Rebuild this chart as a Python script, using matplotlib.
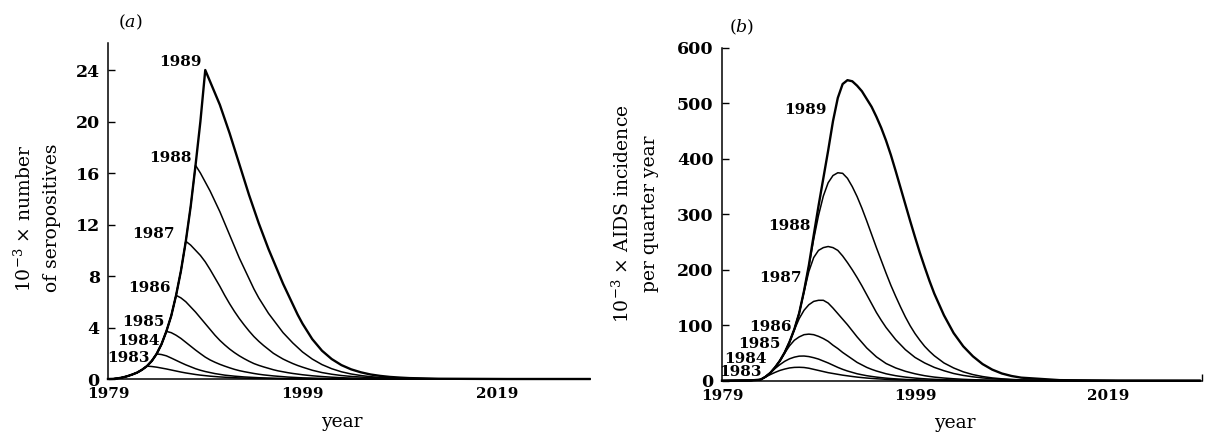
import matplotlib
matplotlib.use("Agg")
import matplotlib.pyplot as plt

plt.rcParams["font.family"] = "DejaVu Serif"
plt.rcParams["mathtext.fontset"] = "dejavuserif"

cohorts = [1983, 1984, 1985, 1986, 1987, 1988, 1989]

# ---------------- (a) seropositives, by last year of infection ----------------
years_a = [1979, 1979.5, 1980, 1980.5, 1981, 1981.5, 1982, 1982.5, 1983, 1983.5,
           1984, 1984.5, 1985, 1985.5, 1986, 1986.5, 1987, 1987.5, 1988, 1988.5,
           1989, 1989.5, 1990, 1990.5, 1991, 1991.5, 1992, 1992.5, 1993, 1993.5,
           1994, 1994.5, 1995, 1995.5, 1996, 1996.5, 1997, 1997.5, 1998, 1998.5,
           1999,
           2000, 2001, 2002, 2003, 2004, 2005, 2006, 2007, 2008, 2009, 2010,
           2013, 2020, 2028.5]

# common rising branch 1979-1989 (half-year steps)
sero_rise = [0, 0.01, 0.05, 0.12, 0.22, 0.35, 0.5, 0.72, 1.0, 1.4, 1.95, 2.7, 3.7,
             4.9, 6.5, 8.4, 10.7, 13.4, 16.6, 20.0, 24.0]

# decline of each cohort, from half a year after its peak onwards
sero_fall_1983 = [0.97, 0.92, 0.85, 0.78, 0.70, 0.62, 0.54, 0.47, 0.41, 0.35, 0.30,
                  0.26, 0.22, 0.19, 0.16, 0.14, 0.12, 0.10, 0.085, 0.07, 0.06, 0.05,
                  0.045, 0.04, 0.035, 0.03, 0.025, 0.02, 0.018, 0.015, 0.012, 0.01,
                  0.01, 0, 0, 0, 0, 0, 0, 0, 0, 0, 0,
                  0, 0, 0]
sero_fall_1984 = [1.9, 1.8, 1.63, 1.45, 1.27, 1.1, 0.95, 0.8, 0.68, 0.58, 0.5, 0.42,
                  0.36, 0.3, 0.26, 0.22, 0.19, 0.16, 0.14, 0.12, 0.1, 0.085, 0.07,
                  0.06, 0.05, 0.04, 0.035, 0.03, 0.025, 0.02,
                  0.015, 0.01, 0, 0, 0, 0, 0, 0, 0, 0, 0,
                  0, 0, 0]
sero_fall_1985 = [3.6, 3.4, 3.15, 2.85, 2.55, 2.25, 1.97, 1.7, 1.48, 1.3, 1.14, 1.0,
                  0.87, 0.75, 0.65, 0.57, 0.5, 0.43, 0.37, 0.32, 0.28, 0.24, 0.21,
                  0.18, 0.15, 0.13, 0.11, 0.09,
                  0.07, 0.05, 0.035, 0.025, 0.015, 0.01, 0, 0, 0, 0, 0,
                  0, 0, 0]
sero_fall_1986 = [6.3, 6.0, 5.6, 5.2, 4.75, 4.3, 3.85, 3.4, 3.0, 2.65, 2.33, 2.05,
                  1.8, 1.58, 1.38, 1.2, 1.06, 0.94, 0.83, 0.72, 0.63, 0.56, 0.49,
                  0.43, 0.38, 0.33,
                  0.25, 0.19, 0.14, 0.1, 0.075, 0.055, 0.04, 0.03, 0.02, 0.015, 0.01,
                  0, 0, 0]
sero_fall_1987 = [10.4, 10.0, 9.6, 9.1, 8.5, 7.85, 7.2, 6.5, 5.85, 5.25, 4.7, 4.2,
                  3.73, 3.3, 2.93, 2.6, 2.3, 2.0, 1.77, 1.55, 1.37, 1.2, 1.05, 0.92,
                  0.68, 0.5, 0.37, 0.27, 0.2, 0.15, 0.11, 0.08, 0.06, 0.045, 0.03,
                  0.01, 0, 0]
sero_fall_1988 = [16.0, 15.3, 14.6, 13.8, 13.0, 12.1, 11.2, 10.3, 9.4, 8.6, 7.8, 7.0,
                  6.3, 5.7, 5.1, 4.6, 4.1, 3.6, 3.2, 2.8, 2.45, 2.1,
                  1.55, 1.12, 0.8, 0.56, 0.39, 0.27, 0.18, 0.12, 0.08, 0.055, 0.04,
                  0.015, 0, 0]
sero_fall_1989 = [23.1, 22.2, 21.3, 20.2, 19.1, 17.9, 16.7, 15.5, 14.3, 13.2, 12.1,
                  11.1, 10.1, 9.2, 8.3, 7.4, 6.6, 5.8, 5.0, 4.3,
                  3.1, 2.2, 1.55, 1.08, 0.75, 0.52, 0.35, 0.24, 0.16, 0.11, 0.07,
                  0.02, 0, 0]

sero_falls = [sero_fall_1983, sero_fall_1984, sero_fall_1985, sero_fall_1986,
              sero_fall_1987, sero_fall_1988, sero_fall_1989]

# ---------------- (b) AIDS incidence per quarter year ----------------
years_b = [1979, 1982,
           1983, 1983.5, 1984, 1984.5, 1985, 1985.5, 1986, 1986.5, 1987, 1987.5,
           1988, 1988.5, 1989, 1989.5, 1990, 1990.5, 1991, 1991.5, 1992, 1992.5,
           1993, 1993.5, 1994, 1994.5, 1995, 1995.5, 1996, 1996.5, 1997, 1997.5,
           1998, 1998.5, 1999, 1999.5, 2000, 2000.5, 2001,
           2002, 2003, 2004, 2005, 2006, 2007, 2008, 2009, 2010,
           2014, 2020, 2028.5]

aids_1983 = [0, 0.5,
             2, 6.5, 11, 15, 18.5, 21, 23, 24, 24.2, 23.8,
             22.5, 20.5, 18.5, 16.5, 14.5, 13, 11.5, 10, 8.8, 7.6,
             6.5, 5.6, 4.8, 4.1, 3.5, 3.0, 2.5, 2.1, 1.8, 1.55,
             1.3, 1.1, 0.9, 0.75, 0.6, 0.5, 0.42,
             0.3, 0.2, 0.14, 0.1, 0.07, 0.05, 0.03, 0.02, 0.01,
             0, 0, 0]
aids_1984 = [0, 0.5,
             2, 7, 14, 22, 29, 35, 39.5, 42.5, 44.3, 44.5,
             43.5, 41.5, 39, 35.5, 32, 28, 24, 20.5, 17.5, 15,
             12.5, 10.7, 9, 7.7, 6.5, 5.5, 4.6, 3.9, 3.3, 2.8,
             2.3, 1.9, 1.6, 1.35, 1.1, 0.95, 0.8,
             0.55, 0.4, 0.28, 0.2, 0.14, 0.1, 0.07, 0.05, 0.03,
             0, 0, 0]
aids_1985 = [0, 0.5,
             2, 7, 14, 24, 36, 50, 63, 73, 79, 83,
             84, 83, 80, 76, 71, 64, 58, 51, 45, 39,
             33, 28.5, 24, 20.5, 17.5, 15, 12.5, 10.7, 9, 7.7,
             6.5, 5.6, 4.7, 4.0, 3.4, 2.9, 2.5,
             1.8, 1.3, 0.9, 0.6, 0.45, 0.3, 0.2, 0.15, 0.1,
             0, 0, 0]
aids_1986 = [0, 0.5,
             2, 7, 14, 24, 36, 51, 70, 92, 112, 127,
             137, 143, 145, 145, 140, 131, 121, 111, 101, 90,
             79, 69, 59, 51, 43, 37, 31, 27, 23, 20,
             17, 14.7, 12.5, 10.7, 9, 7.7, 6.5,
             4.8, 3.5, 2.5, 1.8, 1.3, 0.9, 0.6, 0.4, 0.3,
             0.1, 0, 0]
aids_1987 = [0, 0.5,
             2, 7, 14, 24, 36, 51, 70, 93, 122, 160,
             197, 222, 235, 240, 242, 240, 235, 225, 213, 200,
             186, 171, 155, 139, 123, 109, 96, 85, 74, 65,
             56, 49, 42, 37, 32, 28, 24,
             18, 13, 9.5, 7, 5, 3.5, 2.5, 1.8, 1.2,
             0.3, 0, 0]
aids_1988 = [0, 0.5,
             2, 7, 14, 24, 36, 51, 70, 93, 122, 162,
             206, 255, 298, 333, 357, 370, 375, 374, 365, 350,
             332, 311, 288, 264, 240, 217, 194, 172, 152, 133,
             115, 99, 85, 73, 62, 53, 45,
             32, 23, 16, 11, 7.5, 5, 3.4, 2.3, 1.5,
             0.3, 0, 0]
aids_1989 = [0, 0.5,
             2, 7, 14, 24, 36, 51, 70, 93, 122, 162,
             208, 262, 315, 365, 415, 468, 510, 535, 542, 540,
             532, 522, 508, 494, 476, 456, 433, 407, 378, 348,
             318, 288, 259, 231, 205, 180, 157,
             118, 86, 62, 44, 30, 20, 13, 8.5, 5.5,
             1, 0.1, 0]

aids_curves = [aids_1983, aids_1984, aids_1985, aids_1986, aids_1987, aids_1988,
               aids_1989]

# label anchors (right edge, vertical centre) in data coordinates
sero_label_x = [1983.3, 1984.35, 1984.86, 1985.4, 1985.9, 1987.64, 1988.67]
sero_label_y = [1.63, 2.95, 4.43, 7.07, 11.3, 17.2, 24.6]
aids_label_x = [1983.15, 1983.66, 1985.04, 1986.25, 1987.29, 1988.15, 1989.88]
aids_label_y = [15, 39, 66, 96, 186, 279, 489]

W, H = 1206, 438
fig = plt.figure(figsize=(W / 100, H / 100), dpi=100)
ax_a = fig.add_axes([108 / W, (H - 379) / H, 482 / W, 336 / H])
ax_b = fig.add_axes([722 / W, (H - 380.7) / H, 480 / W, 332.7 / H])


def style_axes(ax, xmax):
    for side in ("top", "right"):
        ax.spines[side].set_visible(False)
    for side in ("left", "bottom"):
        ax.spines[side].set_linewidth(1.1)
    ax.set_xlim(1979, xmax)
    ax.set_xticks([1979, 1999, 2019])
    ax.tick_params(axis="x", which="major", length=0, pad=6, labelsize=11)
    ax.tick_params(axis="y", which="major", direction="in", length=5,
                   width=1.0, pad=6, labelsize=12.5)
    for lab in ax.get_xticklabels() + ax.get_yticklabels():
        lab.set_fontweight("bold")
    ax.set_xlabel("year", fontsize=13.5, va="top")


def cohort_line_width(year):
    return 1.7 if year == 1989 else 1.1


# panel (a)
for year, fall in zip(cohorts, sero_falls):
    n_rise = 2 * (year - 1979) + 1
    vals = sero_rise[:n_rise] + fall
    ax_a.plot(years_a, vals, color="black", lw=cohort_line_width(year),
              solid_joinstyle="round", clip_on=False)
ax_a.set_ylim(0, 26.1)
ax_a.set_yticks([0, 4, 8, 12, 16, 20, 24])
style_axes(ax_a, 2028.56)
for year, lx, ly in zip(cohorts, sero_label_x, sero_label_y):
    ax_a.text(lx, ly, str(year), ha="right", va="center", fontsize=11,
              fontweight="bold")
ax_a.set_ylabel(r"$10^{-3}$ × number" + "\nof seropositives", fontsize=13.5,
                linespacing=1.6, va="center")
ax_a.yaxis.set_label_coords(-0.147, 0.479)
ax_a.xaxis.set_label_coords(0.485, -0.1)

# panel (b)
for year, vals in zip(cohorts, aids_curves):
    ax_b.plot(years_b, vals, color="black", lw=cohort_line_width(year),
              solid_joinstyle="round", clip_on=False)
ax_b.set_ylim(0, 600)
ax_b.set_yticks([0, 100, 200, 300, 400, 500, 600])
style_axes(ax_b, 2028.74)
ax_b.set_xticks([2028.74], minor=True)
ax_b.tick_params(axis="x", which="minor", direction="in", length=5, width=1.0)
for year, lx, ly in zip(cohorts, aids_label_x, aids_label_y):
    ax_b.text(lx, ly, str(year), ha="right", va="center", fontsize=11,
              fontweight="bold")
ax_b.set_ylabel(r"$10^{-3}$ × AIDS incidence" + "\nper quarter year", fontsize=13.5,
                linespacing=1.6, va="center")
ax_b.yaxis.set_label_coords(-0.181, 0.501)
ax_b.xaxis.set_label_coords(0.485, -0.1)

# panel letters
fig.text(130 / W, 1 - 22 / H, r"($\mathit{a}$)", ha="center", va="center", fontsize=12.5)
fig.text(742 / W, 1 - 27 / H, r"($\mathit{b}$)", ha="center", va="center", fontsize=12.5)

fig.savefig("out.png", dpi=100)
